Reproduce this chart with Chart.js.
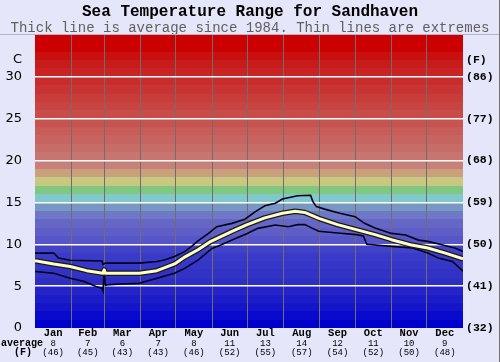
<!DOCTYPE html>
<html>
<head>
<meta charset="utf-8">
<script src="https://cdn.jsdelivr.net/npm/chart.js@4.4.1/dist/chart.umd.min.js"></script>
<style>
  body { margin: 0; background: #e6e6fa; }
  canvas { display: block; }
</style>
</head>
<body>
<canvas id="myChart" width="500" height="362"></canvas>
<script>
// day of year on x, sea temperature (C) on y
const avgDays = [0, 16, 30, 44, 58, 59, 60, 89, 104, 119, 128, 139, 150, 168, 181, 196, 211, 222, 230, 242, 258, 274, 290, 304, 320, 335, 350, 365];
const avgTemp = [8.05, 7.65, 7.35, 6.85, 6.55, 6.95, 6.55, 6.55, 6.85, 7.65, 8.5, 9.35, 10.35, 11.55, 12.35, 13.15, 13.7, 13.95, 13.8, 13.1, 12.35, 11.75, 11.15, 10.55, 9.95, 9.55, 8.95, 8.25];

const maxDays = [0, 16, 20, 30, 57, 58, 60, 89, 104, 111, 119, 128, 133, 139, 148, 155, 168, 179, 188, 196, 205, 211, 224, 235, 237, 240, 247, 260, 273, 281, 290, 304, 316, 327, 335, 347, 358, 365];
const maxTemp = [8.95, 8.95, 8.35, 8.1, 8.0, 7.6, 7.75, 7.75, 7.95, 8.15, 8.55, 9.15, 9.7, 10.4, 11.3, 12.1, 12.5, 13.0, 13.9, 14.6, 14.9, 15.4, 15.8, 15.85, 15.1, 14.5, 14.2, 13.7, 13.3, 12.5, 11.95, 11.3, 11.1, 10.5, 10.35, 9.95, 9.55, 9.15];

const minDays = [0, 16, 30, 42, 52, 57, 58, 59, 60, 61, 73, 89, 104, 119, 128, 139, 151, 159, 168, 181, 190, 205, 216, 224, 230, 239, 242, 258, 274, 280, 283, 304, 322, 335, 344, 356, 365];
const minTemp = [6.75, 6.55, 5.95, 5.55, 4.95, 4.75, 4.4, 6.8, 5.1, 5.15, 5.25, 5.35, 5.95, 6.55, 7.15, 8.1, 9.5, 9.95, 10.5, 11.3, 11.9, 12.3, 12.1, 12.35, 12.35, 11.75, 11.55, 11.35, 11.15, 11.0, 10.0, 9.75, 9.55, 8.95, 8.35, 7.95, 6.8];

const monthEnds = [31, 59, 90, 120, 151, 181, 212, 243, 273, 304, 334];
const monthMids = [15.5, 45, 74.5, 105, 135.5, 166, 196.5, 227.5, 258, 288.5, 319, 349.5];
const monthNames = ['Jan', 'Feb', 'Mar', 'Apr', 'May', 'Jun', 'Jul', 'Aug', 'Sep', 'Oct', 'Nov', 'Dec'];
const monthAvgC = ['8', '7', '6', '7', '8', '11', '13', '14', '12', '11', '10', '9'];
const monthAvgF = ['(46)', '(45)', '(43)', '(43)', '(46)', '(52)', '(55)', '(57)', '(54)', '(52)', '(50)', '(48)'];

const cTicks = [0, 5, 10, 15, 20, 25, 30, 32];
const cTickLabels = ['0', '5', '10', '15', '20', '25', '30', 'C'];
const fTickLabels = ['(32)', '(41)', '(50)', '(59)', '(68)', '(77)', '(86)', '(F)'];

// one colour per 1 degree band, from 0-1 up to 34-35
const bandColors = [
    '#0000cc', '#0a0acc', '#1414c8', '#1c1cc8', '#2424c8',
    '#2e2ec4', '#3232c4', '#3636c8', '#3a3ac8', '#4242c8',
    '#5656c8', '#5e5ec6', '#6666c6', '#6e78c6', '#7898c4',
    '#80c8cc', '#80c880', '#c8c880', '#c8a07c', '#c88078',
    '#c87470', '#c86c68', '#c86460', '#c85c58', '#c85450',
    '#c84c48', '#c84442', '#c83c3a', '#c83434', '#c82c2c',
    '#c82424', '#c81c1c', '#c81010', '#cc0000', '#cc0000'
];

const mono = '"Liberation Mono", monospace';

function toPoints(days, temps) {
    return days.map((d, i) => ({ x: d, y: temps[i] }));
}

const backdrop = {
    id: 'backdrop',
    beforeDraw(chart) {
        const { ctx, chartArea, scales } = chart;
        ctx.save();
        ctx.fillStyle = '#e6e6fa';
        ctx.fillRect(0, 0, chart.width, chart.height);
        bandColors.forEach((color, i) => {
            const top = Math.round(scales.y.getPixelForValue(i + 1));
            const bottom = Math.round(scales.y.getPixelForValue(i));
            ctx.fillStyle = color;
            ctx.fillRect(chartArea.left, top, chartArea.right - chartArea.left, bottom - top);
        });
        ctx.restore();
    },
    afterDraw(chart) {
        const { ctx, chartArea } = chart;
        ctx.save();
        ctx.strokeStyle = '#b4b4c8';
        ctx.lineWidth = 1;
        ctx.beginPath();
        ctx.moveTo(0, chartArea.top - 0.5);
        ctx.lineTo(chart.width, chartArea.top - 0.5);
        ctx.stroke();
        ctx.strokeStyle = '#707070';
        ctx.beginPath();
        ctx.moveTo(chart.width - 0.5, 0);
        ctx.lineTo(chart.width - 0.5, chart.height);
        ctx.stroke();

        ctx.fillStyle = '#000';
        ctx.font = 'bold 10px ' + mono;
        ctx.textAlign = 'center';
        ctx.textBaseline = 'middle';
        ctx.fillText('average', 22, 343);
        ctx.fillText('(F)', 23, 352);
        ctx.restore();
    }
};

const ctx = document.getElementById('myChart').getContext('2d');
new Chart(ctx, {
    type: 'line',
    data: {
        datasets: [
            { data: toPoints(avgDays, avgTemp), borderColor: '#ffffc0', borderWidth: 3, borderJoinStyle: 'round' },
            { data: toPoints(avgDays, avgTemp), borderColor: '#181828', borderWidth: 5.5, borderJoinStyle: 'round' },
            { data: toPoints(maxDays, maxTemp), borderColor: '#00001a', borderWidth: 1.6 },
            { data: toPoints(minDays, minTemp), borderColor: '#00001a', borderWidth: 1.6 }
        ]
    },
    options: {
        responsive: false,
        animation: false,
        elements: { point: { radius: 0 }, line: { tension: 0 } },
        layout: { padding: 0 },
        plugins: {
            legend: { display: false },
            tooltip: { enabled: false },
            title: {
                display: true,
                text: 'Sea Temperature Range for Sandhaven',
                color: '#000',
                font: { family: mono, size: 16, weight: 'bold', lineHeight: 1 },
                padding: { top: 4, bottom: 0 }
            },
            subtitle: {
                display: true,
                text: 'Thick line is average since 1984. Thin lines are extremes',
                color: '#606060',
                font: { family: mono, size: 14, lineHeight: 1 },
                padding: { top: 1, bottom: 0 }
            }
        },
        scales: {
            x: {
                type: 'linear', min: 0, max: 365, position: 'bottom', weight: 0,
                afterBuildTicks: (s) => { s.ticks = monthEnds.map(v => ({ value: v })); },
                afterFit: (s) => { s.height = 0; },
                ticks: { display: false },
                grid: { color: '#6e6e6e', lineWidth: 1, drawTicks: false },
                border: { display: false }
            },
            xm: {
                type: 'linear', min: 0, max: 365, position: 'bottom', weight: 1,
                afterBuildTicks: (s) => { s.ticks = monthMids.map(v => ({ value: v })); },
                afterFit: (s) => { s.height = 11; },
                ticks: {
                    autoSkip: false, maxRotation: 0, minRotation: 0, padding: 0, color: '#000',
                    font: { family: mono, size: 10.5, weight: 'bold', lineHeight: 1 },
                    callback: (v, i) => monthNames[i]
                },
                grid: { display: false, drawTicks: false },
                border: { display: false }
            },
            xa: {
                type: 'linear', min: 0, max: 365, position: 'bottom', weight: 2,
                afterBuildTicks: (s) => { s.ticks = monthMids.map(v => ({ value: v })); },
                afterFit: (s) => { s.height = 23; },
                ticks: {
                    autoSkip: false, maxRotation: 0, minRotation: 0, padding: 0, color: '#000',
                    font: { family: mono, size: 9, lineHeight: 1 },
                    callback: (v, i) => [monthAvgC[i], monthAvgF[i]]
                },
                grid: { display: false, drawTicks: false },
                border: { display: false }
            },
            y: {
                type: 'linear', min: 0, max: 35, position: 'left',
                afterBuildTicks: (s) => { s.ticks = cTicks.map(v => ({ value: v })); },
                afterFit: (s) => { s.width = 35; },
                ticks: {
                    padding: 13, color: '#000',
                    font: { family: '"DejaVu Sans", sans-serif', size: 13 },
                    callback: (v, i) => cTickLabels[i]
                },
                grid: {
                    color: (c) => (c.tick && c.tick.value > 0 && c.tick.value < 31) ? '#ffffff' : 'rgba(0,0,0,0)',
                    lineWidth: 1.5,
                    drawTicks: false
                },
                border: { display: false }
            },
            y2: {
                type: 'linear', min: 0, max: 35, position: 'right',
                afterBuildTicks: (s) => { s.ticks = cTicks.map(v => ({ value: v })); },
                afterFit: (s) => { s.width = 37; },
                ticks: {
                    padding: 3, color: '#000',
                    font: { family: mono, size: 11.5, weight: 'bold' },
                    callback: (v, i) => fTickLabels[i]
                },
                grid: { display: false, drawTicks: false },
                border: { display: false }
            }
        }
    },
    plugins: [backdrop]
});
</script>
</body>
</html>
